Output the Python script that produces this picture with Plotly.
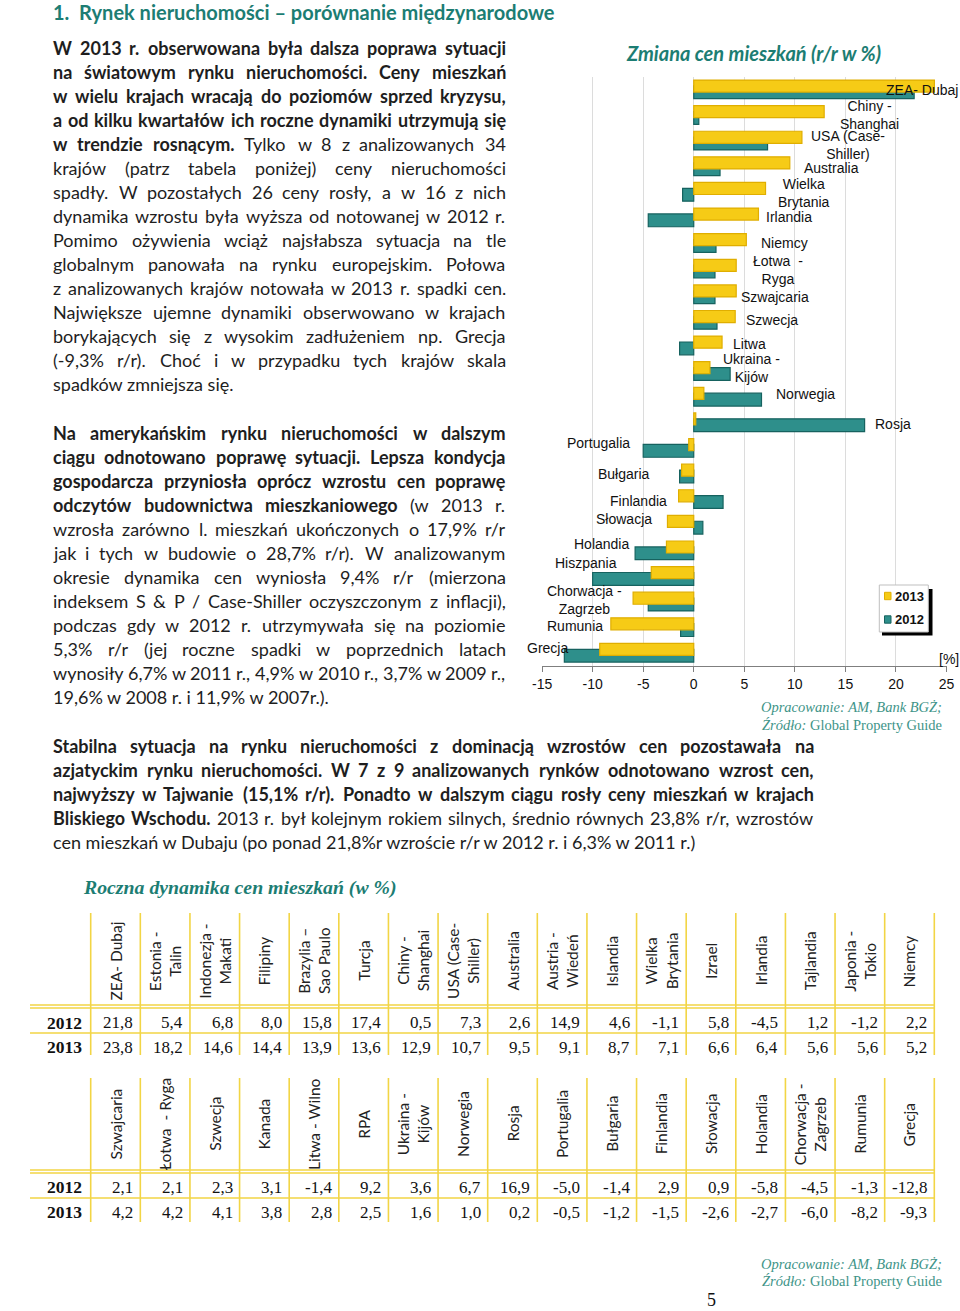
import re
import glob
import struct
import subprocess
import plotly.graph_objects as go

# Figure fills the whole 960x1311 page (body margin removed in write_html below).
OX, OY = 0, 0
W, H = 960, 1311


def px(x):
    return (x - OX) / W


def py(y):
    return 1 - (y - OY) / H


# ---------------- DATA ----------------
chart_cats = ["ZEA- Dubaj", "Chiny - Shanghai", "USA (Case-Shiller)", "Australia",
              "Wielka Brytania", "Irlandia", "Niemcy", "Łotwa - Ryga", "Szwajcaria",
              "Szwecja", "Litwa", "Ukraina - Kijów", "Norwegia", "Rosja", "Portugalia",
              "Bułgaria", "Finlandia", "Słowacja", "Holandia", "Hiszpania",
              "Chorwacja - Zagrzeb", "Rumunia", "Grecja"]
chart_labels = ["ZEA- Dubaj", "Chiny -<br>Shanghai", "USA (Case-<br>Shiller)", "Australia",
                "Wielka<br>Brytania", "Irlandia", "Niemcy", "Łotwa  -<br>Ryga", "Szwajcaria",
                "Szwecja", "Litwa", "Ukraina -<br>Kijów", "Norwegia", "Rosja", "Portugalia",
                "Bułgaria", "Finlandia", "Słowacja", "Holandia", "Hiszpania",
                "Chorwacja -<br>Zagrzeb", "Rumunia", "Grecja"]
chart_2013 = [23.8, 12.9, 10.7, 9.5, 7.1, 6.4, 5.2, 4.2, 4.2, 4.1, 2.8, 1.6, 1.0, 0.2,
              -0.5, -1.2, -1.5, -2.6, -2.7, -4.2, -6.0, -8.2, -9.3]
chart_2012 = [21.8, 0.5, 7.3, 2.6, -1.1, -4.5, 2.2, 2.1, 2.1, 2.3, -1.4, 3.6, 6.7, 16.9,
              -5.0, -1.4, 2.9, 0.9, -5.8, -10.0, -4.5, -1.3, -12.8]
x_ticks = [-15, -10, -5, 0, 5, 10, 15, 20, 25]
series_names = ["2013", "2012"]

t1_cats = ["ZEA- Dubaj", "Estonia -<br>Talin", "Indonezja -<br>Makati", "Filipiny",
           "Brazylia –<br>Sao Paulo", "Turcja", "Chiny -<br>Shanghai", "USA (Case-<br>Shiller)",
           "Australia", "Austria -<br>Wiedeń", "Islandia", "Wielka<br>Brytania", "Izrael",
           "Irlandia", "Tajlandia", "Japonia -<br>Tokio", "Niemcy"]
t1_2012 = [21.8, 5.4, 6.8, 8.0, 15.8, 17.4, 0.5, 7.3, 2.6, 14.9, 4.6, -1.1, 5.8, -4.5, 1.2, -1.2, 2.2]
t1_2013 = [23.8, 18.2, 14.6, 14.4, 13.9, 13.6, 12.9, 10.7, 9.5, 9.1, 8.7, 7.1, 6.6, 6.4, 5.6, 5.6, 5.2]

t2_cats = ["Szwajcaria", "Łotwa  - Ryga", "Szwecja", "Kanada", "Litwa - Wilno", "RPA",
           "Ukraina -<br>Kijów", "Norwegia", "Rosja", "Portugalia", "Bułgaria", "Finlandia",
           "Słowacja", "Holandia", "Chorwacja -<br>Zagrzeb", "Rumunia", "Grecja"]
t2_2012 = [2.1, 2.1, 2.3, 3.1, -1.4, 9.2, 3.6, 6.7, 16.9, -5.0, -1.4, 2.9, 0.9, -5.8, -4.5, -1.3, -12.8]
t2_2013 = [4.2, 4.2, 4.1, 3.8, 2.8, 2.5, 1.6, 1.0, 0.2, -0.5, -1.2, -1.5, -2.6, -2.7, -6.0, -8.2, -9.3]
row_years = ["2012", "2013"]

heading = "1.  Rynek nieruchomości – porównanie międzynarodowe"
chart_title = "Zmiana cen mieszkań (r/r w %)"
table_title = "Roczna dynamika cen mieszkań (w %)"
source_1 = "Opracowanie: AM, Bank BGŻ;"
source_2 = "<i>Źródło:</i> Global Property Guide"
page_no = "5"

para1 = [
    "<b>W 2013 r. obserwowana była dalsza poprawa sytuacji</b>",
    "<b>na światowym rynku nieruchomości. Ceny mieszkań</b>",
    "<b>w wielu krajach wracają do poziomów sprzed kryzysu,</b>",
    "<b>a od kilku kwartałów ich roczne dynamiki utrzymują się</b>",
    "<b>w trendzie rosnącym.</b> Tylko w 8 z analizowanych 34",
    "krajów (patrz tabela poniżej) ceny nieruchomości",
    "spadły. W pozostałych 26 ceny rosły, a w 16 z nich",
    "dynamika wzrostu była wyższa od notowanej w 2012 r.",
    "Pomimo ożywienia wciąż najsłabsza sytuacja na tle",
    "globalnym panowała na rynku europejskim. Połowa",
    "z analizowanych krajów notowała w 2013 r. spadki cen.",
    "Największe ujemne dynamiki obserwowano w krajach",
    "borykających się z wysokim zadłużeniem np. Grecja",
    "(-9,3% r/r). Choć i w przypadku tych krajów skala",
    "spadków zmniejsza się.",
]
para2 = [
    "<b>Na amerykańskim rynku nieruchomości w dalszym</b>",
    "<b>ciągu odnotowano poprawę sytuacji. Lepsza kondycja</b>",
    "<b>gospodarcza przyniosła oprócz wzrostu cen poprawę</b>",
    "<b>odczytów budownictwa mieszkaniowego</b> (w 2013 r.",
    "wzrosła zarówno l. mieszkań ukończonych o 17,9% r/r",
    "jak i tych w budowie o 28,7% r/r). W analizowanym",
    "okresie dynamika cen wyniosła 9,4% r/r (mierzona",
    "indeksem S & P / Case-Shiller oczyszczonym z inflacji),",
    "podczas gdy w 2012 r. utrzymywała się na poziomie",
    "5,3% r/r (jej roczne spadki w poprzednich latach",
    "wynosiły 6,7% w 2011 r., 4,9% w 2010 r., 3,7% w 2009 r.,",
    "19,6% w 2008 r. i 11,9% w 2007r.).",
]
para3 = [
    "<b>Stabilna sytuacja na rynku nieruchomości z dominacją wzrostów cen pozostawała na</b>",
    "<b>azjatyckim rynku nieruchomości. W 7 z 9 analizowanych rynków odnotowano wzrost cen,</b>",
    "<b>najwyższy w Tajwanie (15,1% r/r). Ponadto w dalszym ciągu rosły ceny mieszkań w krajach</b>",
    "<b>Bliskiego Wschodu.</b> 2013 r. był kolejnym rokiem silnych, średnio równych 23,8% r/r, wzrostów",
    "cen mieszkań w Dubaju (po ponad 21,8%r wzroście r/r w 2012 r. i 6,3% w 2011 r.)",
]

# ---------------- STYLE ----------------
SANS_BODY = "Lato, Carlito, sans-serif"
ARIAL = "Liberation Sans, Arial, sans-serif"
SERIF = "Liberation Serif, Times New Roman, serif"
TEAL = "#1C7D73"
SRC_TEAL = "#3E9488"
YELLOW = "#F6CB16"
YELLOW_LINE = "#E0AE00"
BAR_TEAL = "#2E8F8B"
BAR_TEAL_LINE = "#16625F"
GRID_YEL = "#F2D545"
TXT = "#1E1E1E"
BODY_SIZE = 18


# ---------------- font metrics (for justified text) ----------------
def _find_font(patterns, fc_query):
    for p in patterns:
        hits = sorted(glob.glob(p, recursive=True))
        if hits:
            return hits[0]
    try:
        out = subprocess.run(["fc-match", "-f", "%{file}", fc_query],
                             capture_output=True, text=True, timeout=10).stdout.strip()
        if out:
            return out
    except Exception:
        pass
    return None


def _load_widths(path):
    data = open(path, "rb").read()
    u16 = lambda o: struct.unpack(">H", data[o:o + 2])[0]
    s16 = lambda o: struct.unpack(">h", data[o:o + 2])[0]
    u32 = lambda o: struct.unpack(">I", data[o:o + 4])[0]
    ntab = u16(4)
    tabs = {}
    for i in range(ntab):
        tag = data[12 + 16 * i:16 + 16 * i].decode("latin1")
        tabs[tag] = u32(12 + 16 * i + 8)
    upem = u16(tabs["head"] + 18)
    nhm = u16(tabs["hhea"] + 34)
    hm = tabs["hmtx"]
    adv = [u16(hm + 4 * i) for i in range(nhm)]
    cm = tabs["cmap"]
    nsub = u16(cm + 2)
    subs = []
    for i in range(nsub):
        pid, eid, off = u16(cm + 4 + 8 * i), u16(cm + 6 + 8 * i), u32(cm + 8 + 8 * i)
        subs.append((pid, eid, cm + off))
    cmap = {}
    for pid, eid, off in subs:
        fmt = u16(off)
        if fmt == 12:
            ng = u32(off + 12)
            for g in range(ng):
                sc, ec, sg = u32(off + 16 + 12 * g), u32(off + 20 + 12 * g), u32(off + 24 + 12 * g)
                for c in range(sc, ec + 1):
                    cmap[c] = sg + c - sc
            break
    if not cmap:
        for pid, eid, off in subs:
            if u16(off) == 4:
                segx2 = u16(off + 6)
                ends = off + 14
                starts = ends + segx2 + 2
                deltas = starts + segx2
                ranges = deltas + segx2
                for s in range(segx2 // 2):
                    e, st = u16(ends + 2 * s), u16(starts + 2 * s)
                    d, ro = s16(deltas + 2 * s), u16(ranges + 2 * s)
                    for c in range(st, e + 1):
                        if c == 0xFFFF:
                            continue
                        if ro == 0:
                            g = (c + d) & 0xFFFF
                        else:
                            g = u16(ranges + 2 * s + ro + 2 * (c - st))
                            if g:
                                g = (g + d) & 0xFFFF
                        cmap[c] = g
                break
    return lambda ch: adv[min(cmap.get(ord(ch), 0), nhm - 1)] / upem


METRICS = None
try:
    reg = _find_font(["/usr/share/fonts/**/Lato-Regular.ttf"], "Lato:regular")
    bld = _find_font(["/usr/share/fonts/**/Lato-Bold.ttf"], "Lato:bold")
    if reg and bld and "lato" in reg.lower() and "lato" in bld.lower():
        METRICS = {False: _load_widths(reg), True: _load_widths(bld)}
except Exception:
    METRICS = None


def measure(word, bold, size):
    f = METRICS[bold]
    return sum(f(ch) for ch in word) * size


fig = go.Figure()

# bars: 2012 behind, 2013 in front
fig.add_trace(go.Bar(y=chart_cats, x=chart_2012, orientation="h", name=series_names[1],
                     offset=-0.14, width=0.5,
                     marker=dict(color=BAR_TEAL, line=dict(color=BAR_TEAL_LINE, width=1.2)),
                     showlegend=False))
fig.add_trace(go.Bar(y=chart_cats, x=chart_2013, orientation="h", name=series_names[0],
                     offset=-0.37, width=0.47,
                     marker=dict(color=YELLOW, line=dict(color=YELLOW_LINE, width=1.2)),
                     showlegend=False))

fig.update_layout(
    width=W, height=H, margin=dict(l=0, r=0, t=0, b=0, pad=0),
    paper_bgcolor="white", plot_bgcolor="white", barmode="overlay",
    showlegend=False,
    xaxis=dict(domain=[px(542.1), px(946.5)], range=[-15, 25], tickvals=x_ticks,
               ticktext=[str(v) for v in x_ticks],
               tickfont=dict(family=ARIAL, size=14, color="#111"),
               showgrid=True, gridcolor="#DCDCDC", gridwidth=1, zeroline=False,
               showline=True, linecolor="#7F7F7F", linewidth=1.2,
               ticks="outside", ticklen=5, tickcolor="#7F7F7F", automargin=False,
               fixedrange=True),
    yaxis=dict(domain=[py(665.7), py(76.7)], type="category", categoryorder="array",
               categoryarray=chart_cats, range=[len(chart_cats) - 0.5, -0.5],
               showticklabels=False, showgrid=False, zeroline=False, showline=False,
               automargin=False, fixedrange=True),
)

ann = []
shapes = []


def text(x, y, s, size, family, color=TXT, xanchor="left", angle=0, yanchor="middle"):
    ann.append(dict(x=px(x), y=py(y), xref="paper", yref="paper", text=s, showarrow=False,
                    xanchor=xanchor, yanchor=yanchor, textangle=angle,
                    font=dict(family=family, size=size, color=color)))


def body_line(line, x0, x1, y, justify):
    # split "<b>..</b>" html into (word, bold) items
    words = []
    bold = False
    for part in re.split(r"(<b>|</b>)", line):
        if part == "<b>":
            bold = True
        elif part == "</b>":
            bold = False
        else:
            for w in part.split():
                words.append((w, bold))
    if not justify or METRICS is None or len(words) < 2:
        text(x0, y, line, BODY_SIZE, SANS_BODY)
        return
    widths = [measure(w, b, BODY_SIZE) for w, b in words]
    gap = (x1 - x0 - sum(widths)) / (len(words) - 1)
    gap = max(gap, 0.2 * BODY_SIZE)
    x = x0
    for (w, b), wd in zip(words, widths):
        text(x, y, ("<b>" + w + "</b>") if b else w, BODY_SIZE, SANS_BODY)
        x += wd + gap


# heading
text(51, 12, "<b>" + heading + "</b>", 20, SANS_BODY, TEAL)
# body text (justified like the source document; last line of paragraph ragged)
for para, y0, right in [(para1, 48, 504), (para2, 433, 504), (para3, 746, 812)]:
    for i, line in enumerate(para):
        body_line(line, 51, right, y0 + 24 * i, i < len(para) - 1)

# chart title
text(624, 53, "<b><i>" + chart_title + "</i></b>", 20, SANS_BODY, TEAL)

# category labels next to the bars (pixel anchor = centre of the label)
label_pos = [(922, 90), (869, 114.5), (848, 145), (831, 168), (804, 192.5), (789, 217),
             (784.5, 243), (777.5, 270), (775, 297), (772, 320), (749, 344), (751.5, 368),
             (805.5, 394), (893, 424), (598, 443), (623.5, 474), (638.5, 501), (624, 519),
             (601, 544), (585.5, 563), (584.5, 599.5), (575, 626), (547.5, 648)]
for lab, (lx, ly) in zip(chart_labels, label_pos):
    text(lx, ly, lab, 14, ARIAL, "#111", xanchor="center")

# [%]
text(948.5, 659, "[%]", 14, ARIAL, "#111", xanchor="center")

# legend box with shadow
shapes.append(dict(type="rect", xref="paper", yref="paper", x0=px(882), x1=px(932.5),
                   y0=py(589), y1=py(635.5), fillcolor="#000", line=dict(width=0), layer="above"))
shapes.append(dict(type="rect", xref="paper", yref="paper", x0=px(879.3), x1=px(928.3),
                   y0=py(585), y1=py(632), fillcolor="white", line=dict(color="#BFBFBF", width=1),
                   layer="above"))
for nm, col, lc, ly in [(series_names[0], YELLOW, YELLOW_LINE, 596),
                        (series_names[1], BAR_TEAL, BAR_TEAL_LINE, 619.5)]:
    shapes.append(dict(type="rect", xref="paper", yref="paper", x0=px(884.5), x1=px(891),
                       y0=py(ly - 3.7), y1=py(ly + 3.7), fillcolor=col, line=dict(color=lc, width=1),
                       layer="above"))
    text(892.5, ly, "<b>" + nm + "</b>", 13, ARIAL, "#111")

# sources
for y1, y2 in [(707, 724.5), (1264, 1281)]:
    text(944, y1, "<i>" + source_1 + "</i>", 14.5, SERIF, SRC_TEAL, xanchor="right")
    text(944, y2, source_2, 14.5, SERIF, SRC_TEAL, xanchor="right")
text(711, 1300, page_no, 18, SERIF, "#111", xanchor="center")

# table title
text(81, 887, "<b><i>" + table_title + "</i></b>", 19.8, SERIF, TEAL)

# ---------------- TABLES ----------------
col0 = 90.7
colw = (934.3 - 90.7) / 17


def draw_table(cats, v2012, v2013, top, head_c, dbl, mid, bottom, r1, r2):
    n = len(cats)
    for i in range(n + 1):
        x = col0 + colw * i
        shapes.append(dict(type="line", xref="paper", yref="paper", x0=px(x), x1=px(x),
                           y0=py(top), y1=py(bottom), line=dict(color=GRID_YEL, width=1.6)))
    for yy in [dbl, dbl + 3, mid]:
        shapes.append(dict(type="line", xref="paper", yref="paper", x0=px(30), x1=px(col0 + colw * n),
                           y0=py(yy), y1=py(yy), line=dict(color=GRID_YEL, width=1.6)))
    for i, c in enumerate(cats):
        cx = col0 + colw * (i + 0.5)
        text(cx, head_c, c, 15.5, SANS_BODY, "#222", xanchor="center", angle=-90)
        rx = col0 + colw * (i + 1) - 5
        text(rx, r1, f"{v2012[i]:.1f}".replace(".", ","), 17, SERIF, "#111", xanchor="right")
        text(rx, r2, f"{v2013[i]:.1f}".replace(".", ","), 17, SERIF, "#111", xanchor="right")
    text(45, r1, "<b>" + row_years[0] + "</b>", 17.5, SERIF, "#111")
    text(45, r2, "<b>" + row_years[1] + "</b>", 17.5, SERIF, "#111")


draw_table(t1_cats, t1_2012, t1_2013, 913, 961, 1005, 1033, 1055, 1022.5, 1047)
draw_table(t2_cats, t2_2012, t2_2013, 1078, 1124, 1170, 1198, 1222, 1187, 1212)

fig.update_layout(annotations=ann, shapes=shapes)
# remove the browser's default 8px body margin so the 960x1311 figure fills the page
fig.write_html("out.html", config={"displayModeBar": False, "staticPlot": True},
               post_script="document.body.style.margin='0';document.body.style.overflow='hidden';")
